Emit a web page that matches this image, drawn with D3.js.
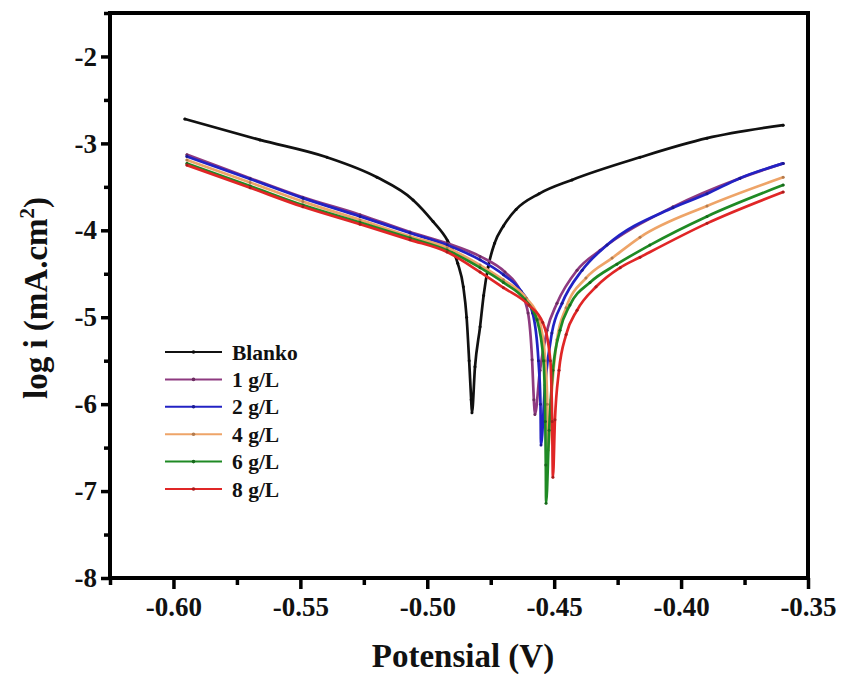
<!DOCTYPE html>
<html>
<head>
<meta charset="utf-8">
<script src="https://cdn.jsdelivr.net/npm/d3@7"></script>
<style>
  html, body { margin: 0; padding: 0; background: #fff; }
  svg { display: block; }
  text { font-family: "Liberation Serif", "Times New Roman", serif; font-weight: bold; fill: #111; }
</style>
</head>
<body>
<svg id="chart" width="841" height="674"></svg>
<script>
// Tafel polarisation curves: potential (V) vs log current density
const seriesNames = ["Blanko", "1 g/L", "2 g/L", "4 g/L", "6 g/L", "8 g/L"];
const seriesColors = ["#111111", "#8e3a80", "#2222c4", "#eea468", "#1f8a24", "#e02626"];

const blanko = [
  [-0.5955, -2.72], [-0.5659, -2.96], [-0.5395, -3.16], [-0.5198, -3.39], [-0.5056, -3.65],
  [-0.4977, -3.90], [-0.4920, -4.12], [-0.4880, -4.38], [-0.4858, -4.65], [-0.4845, -5.00],
  [-0.4835, -5.50], [-0.4827, -5.95], [-0.4824, -6.10],
  [-0.4812, -5.57], [-0.4792, -5.11], [-0.4778, -4.75], [-0.4760, -4.42], [-0.4735, -4.15],
  [-0.4700, -3.95], [-0.4650, -3.76], [-0.4560, -3.58], [-0.4430, -3.42], [-0.4162, -3.16],
  [-0.3898, -2.94], [-0.3598, -2.79]
];
const g1 = [
  [-0.5947, -3.13], [-0.5698, -3.40], [-0.5490, -3.62], [-0.5265, -3.82], [-0.5068, -4.02],
  [-0.4922, -4.15], [-0.4792, -4.30], [-0.4694, -4.48], [-0.4635, -4.69], [-0.4603, -4.95],
  [-0.4587, -5.49], [-0.4580, -5.95], [-0.4576, -6.12],
  [-0.4556, -5.61], [-0.4528, -5.15], [-0.4489, -4.84], [-0.4410, -4.46], [-0.4319, -4.23],
  [-0.4032, -3.73], [-0.3768, -3.40], [-0.3598, -3.23]
];
const g2 = [
  [-0.5947, -3.15], [-0.5698, -3.41], [-0.5490, -3.63], [-0.5265, -3.84], [-0.5068, -4.03],
  [-0.4922, -4.17], [-0.4792, -4.34], [-0.4700, -4.51], [-0.4630, -4.70], [-0.4585, -4.95],
  [-0.4562, -5.50], [-0.4554, -6.00], [-0.4552, -6.47],
  [-0.4536, -5.78], [-0.4509, -5.18], [-0.4469, -4.84], [-0.4390, -4.46], [-0.4292, -4.17],
  [-0.4032, -3.74], [-0.3898, -3.58], [-0.3768, -3.40], [-0.3598, -3.23]
];
const g4 = [
  [-0.5947, -3.19], [-0.5698, -3.45], [-0.5490, -3.67], [-0.5265, -3.88], [-0.5068, -4.07],
  [-0.4922, -4.20], [-0.4792, -4.40], [-0.4700, -4.57], [-0.4610, -4.78], [-0.4560, -5.02],
  [-0.4535, -5.50], [-0.4527, -6.00], [-0.4524, -6.53],
  [-0.4512, -5.95], [-0.4489, -5.26], [-0.4453, -4.89], [-0.4375, -4.55], [-0.4272, -4.32],
  [-0.4162, -4.08], [-0.3898, -3.72], [-0.3598, -3.39]
];
const g6 = [
  [-0.5947, -3.23], [-0.5698, -3.49], [-0.5490, -3.71], [-0.5265, -3.91], [-0.5068, -4.09],
  [-0.4922, -4.23], [-0.4792, -4.43], [-0.4700, -4.60], [-0.4615, -4.80], [-0.4568, -5.03],
  [-0.4542, -5.50], [-0.4535, -6.20], [-0.4533, -6.70], [-0.4532, -7.14],
  [-0.4520, -6.30], [-0.4505, -5.61], [-0.4477, -5.15], [-0.4438, -4.86], [-0.4359, -4.60],
  [-0.4253, -4.39], [-0.4123, -4.17], [-0.3898, -3.84], [-0.3598, -3.48]
];
const g8 = [
  [-0.5947, -3.25], [-0.5698, -3.51], [-0.5490, -3.73], [-0.5265, -3.93], [-0.5068, -4.11],
  [-0.4922, -4.25], [-0.4792, -4.48], [-0.4700, -4.66], [-0.4600, -4.86], [-0.4545, -5.06],
  [-0.4515, -5.50], [-0.4508, -6.20], [-0.4505, -6.84],
  [-0.4497, -6.18], [-0.4481, -5.61], [-0.4453, -5.20], [-0.4410, -4.92], [-0.4335, -4.65],
  [-0.4240, -4.43], [-0.4162, -4.31], [-0.3898, -3.92], [-0.3598, -3.56]
];
const seriesData = [blanko, g1, g2, g4, g6, g8];

const xTicks = [-0.60, -0.55, -0.50, -0.45, -0.40, -0.35];
const xMinorTicks = [-0.625, -0.575, -0.525, -0.475, -0.425, -0.375];
const yTicks = [-8, -7, -6, -5, -4, -3, -2];
const yMinorTicks = [-7.5, -6.5, -5.5, -4.5, -3.5, -2.5, -1.5];

const svg = d3.select("#chart");
const margin = { left: 110, right: 33, top: 13, bottom: 96 };
const W = 841, H = 674;

const x = d3.scaleLinear().domain([-0.625, -0.35]).range([margin.left, W - margin.right]);
const y = d3.scaleLinear().domain([-8, -1.5]).range([H - margin.bottom, margin.top]);

// curves
const line = d3.line().x(d => x(d[0])).y(d => y(d[1])).curve(d3.curveMonotoneX);
const plot = svg.append("g");
seriesData.forEach((data, i) => {
  plot.append("path")
    .datum(data)
    .attr("d", line)
    .attr("fill", "none")
    .attr("stroke", seriesColors[i])
    .attr("stroke-width", 2.7)
    .attr("stroke-linejoin", "round")
    .attr("stroke-linecap", "round");
  plot.selectAll(null)
    .data(data)
    .enter().append("circle")
    .attr("cx", d => x(d[0]))
    .attr("cy", d => y(d[1]))
    .attr("r", 1.5)
    .attr("fill", d3.color(seriesColors[i]).darker(0.8));
});

// frame
svg.append("rect")
  .attr("x", x.range()[0]).attr("y", y.range()[1])
  .attr("width", x.range()[1] - x.range()[0])
  .attr("height", y.range()[0] - y.range()[1])
  .attr("fill", "none").attr("stroke", "#000").attr("stroke-width", 4);

// axes (hyphen-minus labels)
const xAxis = svg.append("g").attr("transform", `translate(0,${y.range()[0]})`)
  .call(d3.axisBottom(x).tickValues(xTicks).tickFormat(d => d.toFixed(2)).tickSize(11).tickPadding(8));
const xMinor = svg.append("g").attr("transform", `translate(0,${y.range()[0]})`)
  .call(d3.axisBottom(x).tickValues(xMinorTicks).tickFormat("").tickSize(7));
const yAxis = svg.append("g").attr("transform", `translate(${x.range()[0]},0)`)
  .call(d3.axisLeft(y).tickValues(yTicks).tickFormat(d => String(d)).tickSize(9).tickPadding(4));
const yMinor = svg.append("g").attr("transform", `translate(${x.range()[0]},0)`)
  .call(d3.axisLeft(y).tickValues(yMinorTicks).tickFormat("").tickSize(6));

[xAxis, xMinor, yAxis, yMinor].forEach(g => {
  g.select(".domain").remove();
  g.selectAll(".tick line").attr("stroke", "#000").attr("stroke-width", 3.5);
});
[xAxis, yAxis].forEach(g => {
  g.selectAll(".tick text")
    .attr("font-size", 27)
    .attr("font-family", "Liberation Serif")
    .attr("font-weight", "bold")
    .attr("fill", "#111");
});

// axis titles
svg.append("text")
  .attr("x", 463).attr("y", 667)
  .attr("text-anchor", "middle")
  .attr("font-size", 33)
  .text("Potensial (V)");

const yTitle = svg.append("text")
  .attr("transform", `translate(47,298) rotate(-90)`)
  .attr("text-anchor", "middle")
  .attr("font-size", 33);
yTitle.append("tspan").text("log i (mA.cm");
yTitle.append("tspan").attr("dy", -13).attr("font-size", 21).text("2");
yTitle.append("tspan").attr("dy", 13).text(")");

// legend
const legend = svg.append("g").attr("transform", "translate(165,352)");
seriesNames.forEach((name, i) => {
  const row = legend.append("g").attr("transform", `translate(0,${i * 27.4})`);
  row.append("line").attr("x1", 0).attr("x2", 57).attr("y1", 0).attr("y2", 0)
    .attr("stroke", seriesColors[i]).attr("stroke-width", 2);
  row.append("circle").attr("cx", 28.5).attr("cy", 0).attr("r", 1.8)
    .attr("fill", d3.color(seriesColors[i]).darker(0.8));
  row.append("text").attr("x", 67).attr("y", 7.5).attr("font-size", 21.5).text(name);
});
</script>
</body>
</html>
